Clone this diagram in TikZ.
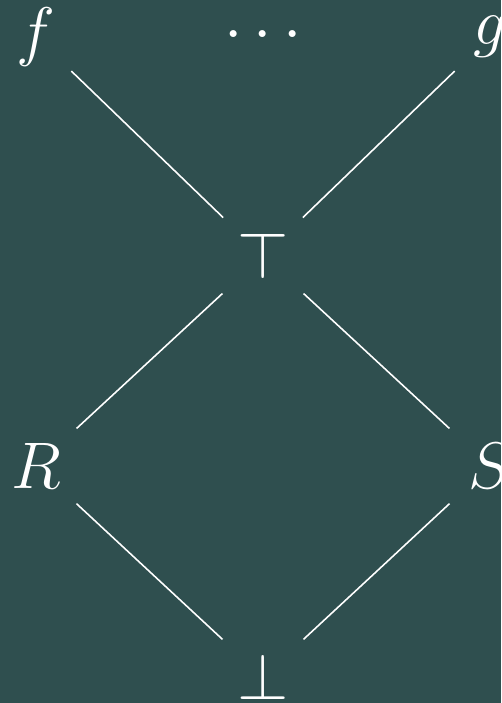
\documentclass[tikz,border=0pt]{standalone}
\usepackage{fix-cm}
\usepackage{tikz}
\definecolor{bgslate}{RGB}{47,79,79}

\begin{document}
\begin{tikzpicture}[x=0.02cm, y=-0.02cm,
  lat/.style={circle, minimum size=2.2cm, inner sep=0pt, text=white,
    font=\fontsize{37.5}{45}\selectfont},
  lattop/.style={lat, minimum size=1.95cm},
  edge/.style={white, line width=0.9pt}]
  % 背景, 画布 501 x 703 px
  \fill[bgslate] (0,0) rectangle (501,703);
  \useasboundingbox (0,0) rectangle (501,703);

  % 顶行
  \node[lattop] (f)     at (36,37)  {$f$};
  \node[lattop] (dots)  at (263,36) {$\cdots$};
  \node[lattop] (g)     at (490,37) {$g$};

  % 中间
  \node[lat] (top) at (263,256) {$\top$};
  \node[lat] (R)   at (36,466)  {$R$};
  \node[lat] (S)   at (490,466) {$S$};
  \node[lat] (bot) at (263,677) {$\bot$};

  % 连线
  \draw[edge] (f) -- (top);
  \draw[edge] (g) -- (top);
  \draw[edge] (top) -- (R);
  \draw[edge] (top) -- (S);
  \draw[edge] (R) -- (bot);
  \draw[edge] (S) -- (bot);
\end{tikzpicture}
\end{document}
